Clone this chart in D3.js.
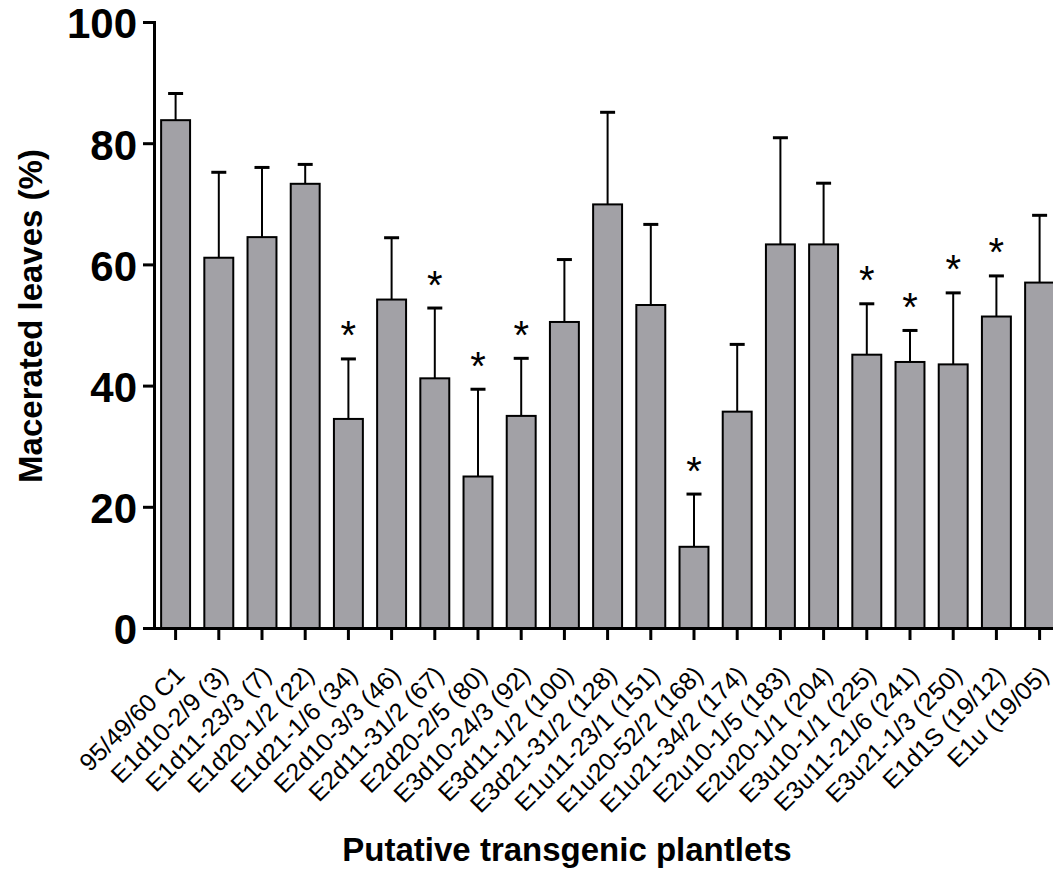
<!DOCTYPE html>
<html>
<head>
<meta charset="utf-8">
<script src="https://cdn.jsdelivr.net/npm/d3@7"></script>
<style>
  html, body { margin: 0; padding: 0; background: #fff; }
  svg { display: block; font-family: "Liberation Sans", Arial, sans-serif; }
</style>
</head>
<body>
<svg id="chart" width="1053" height="869"></svg>
<script>
// Plantlet lines tested for leaf maceration
const categories = [
  "95/49/60 C1", "E1d10-2/9 (3)", "E1d11-23/3 (7)", "E1d20-1/2 (22)", "E1d21-1/6 (34)",
  "E2d10-3/3 (46)", "E2d11-31/2 (67)", "E2d20-2/5 (80)", "E3d10-24/3 (92)", "E3d11-1/2 (100)",
  "E3d21-31/2 (128)", "E1u11-23/1 (151)", "E1u20-52/2 (168)", "E1u21-34/2 (174)", "E2u10-1/5 (183)",
  "E2u20-1/1 (204)", "E3u10-1/1 (225)", "E3u11-21/6 (241)", "E3u21-1/3 (250)", "E1d1S (19/12)",
  "E1u (19/05)"
];
// Mean macerated leaves (%)
const means = [83.8, 61.1, 64.5, 73.3, 34.5, 54.2, 41.2, 25.0, 35.0, 50.5,
               69.9, 53.3, 13.4, 35.7, 63.3, 63.3, 45.1, 43.9, 43.5, 51.4, 57.0];
// Upper error (mean + SD)
const upper = [88.2, 75.2, 76.0, 76.5, 44.4, 64.4, 52.8, 39.4, 44.5, 60.8,
               85.1, 66.6, 22.1, 46.8, 80.9, 73.4, 53.5, 49.1, 55.3, 58.1, 68.1];
// Significant difference from the control
const significant = [false, false, false, false, true, false, true, true, true, false,
                     false, false, true, false, false, false, true, true, true, true, false];
const yTicks = [0, 20, 40, 60, 80, 100];

const svg = d3.select("#chart");

const axisX = 154, step = 43.2;
const x = d3.scaleBand()
  .domain(categories)
  .range([axisX, axisX + categories.length * step])
  .paddingInner(0.33)
  .paddingOuter(0.165);

const y = d3.scaleLinear().domain([0, 100]).range([628, 22]);

// Bars
svg.append("g").selectAll("rect")
  .data(categories)
  .join("rect")
  .attr("x", d => x(d))
  .attr("y", (d, i) => y(means[i]))
  .attr("width", x.bandwidth())
  .attr("height", (d, i) => y(0) - y(means[i]))
  .attr("fill", "#a2a1a6")
  .attr("stroke", "#000")
  .attr("stroke-width", 2);

// Upper error bars
const err = svg.append("g").selectAll("g")
  .data(categories)
  .join("g")
  .attr("transform", d => `translate(${x(d) + x.bandwidth() / 2},0)`);
err.append("line")
  .attr("y1", (d, i) => y(means[i]))
  .attr("y2", (d, i) => y(upper[i]))
  .attr("stroke", "#000").attr("stroke-width", 2);
err.append("line")
  .attr("x1", -7.5).attr("x2", 7.5)
  .attr("y1", (d, i) => y(upper[i]))
  .attr("y2", (d, i) => y(upper[i]))
  .attr("stroke", "#000").attr("stroke-width", 3);

// Significance asterisks
svg.append("g").selectAll("text")
  .data(categories.filter((d, i) => significant[i]))
  .join("text")
  .attr("x", d => x(d) + x.bandwidth() / 2)
  .attr("y", d => y(upper[categories.indexOf(d)]) - 9.5)
  .attr("text-anchor", "middle")
  .attr("font-size", 40)
  .attr("fill", "#000")
  .text("*");

// Y axis
const yAxis = svg.append("g")
  .attr("transform", `translate(${axisX},0)`)
  .call(d3.axisLeft(y).tickValues(yTicks).tickSize(11).tickSizeOuter(0).tickPadding(6));
yAxis.select(".domain").attr("stroke-width", 3).attr("stroke-linecap", "square");
yAxis.selectAll(".tick line").attr("stroke-width", 3);
yAxis.selectAll(".tick text")
  .attr("font-size", 42).attr("font-weight", "bold")
  .attr("font-family", "Liberation Sans, Arial, sans-serif")
  .attr("dy", "0.38em").attr("fill", "#000");

// X axis
const xAxis = svg.append("g")
  .attr("transform", `translate(0,${y(0)})`)
  .call(d3.axisBottom(x).tickSize(12).tickSizeOuter(0));
xAxis.select(".domain").attr("stroke-width", 3).attr("stroke-linecap", "square");
xAxis.selectAll(".tick line").attr("stroke-width", 3);
xAxis.selectAll(".tick text")
  .attr("font-size", 25)
  .attr("font-family", "Liberation Sans, Arial, sans-serif")
  .attr("fill", "#000")
  .attr("text-anchor", "end")
  .attr("y", 0).attr("dy", "0.71em")
  .attr("transform", "translate(-2,36) rotate(-45)");

// Axis titles
svg.append("text")
  .attr("transform", "translate(42,316) rotate(-90)")
  .attr("text-anchor", "middle")
  .attr("font-size", 33).attr("font-weight", "bold")
  .text("Macerated leaves (%)");

svg.append("text")
  .attr("x", 567).attr("y", 861)
  .attr("text-anchor", "middle")
  .attr("font-size", 33).attr("font-weight", "bold")
  .text("Putative transgenic plantlets");
</script>
</body>
</html>
